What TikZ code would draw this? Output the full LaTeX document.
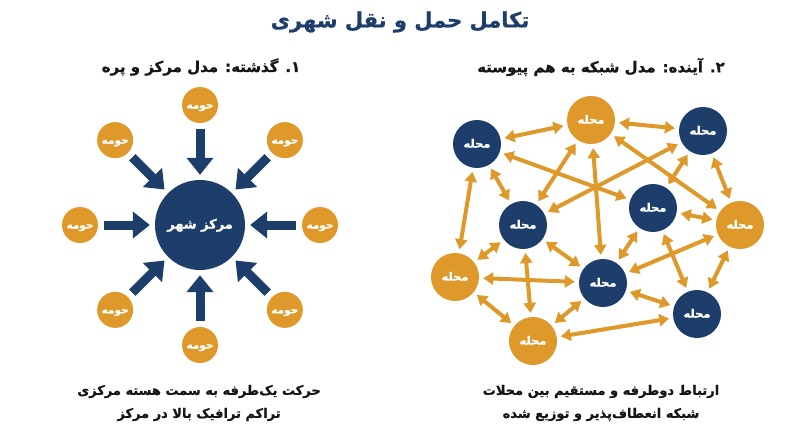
\documentclass[tikz,border=0pt]{standalone}
\usepackage{fontspec}
\usepackage{xcolor}
\definecolor{colorNavy}{RGB}{29,62,107}
\definecolor{colorAmber}{RGB}{222,153,42}
\definecolor{colorInk}{RGB}{22,22,22}
\newfontfamily\farsifont[Script=Arabic, BoldFeatures={FakeBold=0.8}]{DejaVu Sans}
\TeXXeTstate=1
\newcommand{\fatext}[1]{{\farsifont\bfseries\beginR #1\endR}}
\usetikzlibrary{arrows.meta, positioning}
\tikzset{
  hub/.style={circle, fill=colorNavy, minimum size=90pt, inner sep=0pt, text=white, text height=0.72em, text depth=0pt, font=\fontsize{13}{15}\selectfont},
  suburb/.style={circle, fill=colorAmber, minimum size=36pt, inner sep=0pt, text=white, text height=0.72em, text depth=0pt, font=\fontsize{10.5}{12}\selectfont},
  district/.style={circle, minimum size=48pt, inner sep=0pt, text=white, text height=0.72em, text depth=0pt, font=\fontsize{11.5}{13}\selectfont},
  inflow/.style={colorNavy, line width=9pt, -{Triangle[length=17pt, width=26pt]}, shorten >=5pt, shorten <=6pt},
  link/.style={colorAmber, line width=4pt, {Triangle[length=10pt, width=12pt]}-{Triangle[length=10pt, width=12pt]}, shorten >=4pt, shorten <=4pt}
}

\begin{document}
\begin{tikzpicture}[x=1pt, y=-1pt]
\useasboundingbox[fill=white] (0,0) rectangle (800,447);

% titles
\node[colorNavy, font=\fontsize{21}{24}\selectfont] (title) at (400,22) {\fatext{تکامل حمل و نقل شهری}};
\node[colorInk, font=\fontsize{15}{18}\selectfont] (headOld) at (201,67) {\fatext{۱. گذشته: مدل مرکز و پره}};
\node[colorInk, font=\fontsize{15}{18}\selectfont] (headNew) at (601,67) {\fatext{۲. آینده: مدل شبکه به هم پیوسته}};

% hub and spoke
\node[hub] (hub) at (200,225) {\fatext{مرکز شهر}};
\foreach \ang [count=\i] in {90,135,180,225,270,315,0,45} {
  \node[suburb] (s\i) at ({200+120*cos(\ang)},{225+120*sin(\ang)}) {\fatext{حومه}};
  \draw[inflow] (s\i) -- (hub);
}

% network
\node[district, fill=colorNavy]  (n1)  at (477,144) {\fatext{محله}};
\node[district, fill=colorAmber] (n2)  at (591,120) {\fatext{محله}};
\node[district, fill=colorNavy]  (n3)  at (703,131) {\fatext{محله}};
\node[district, fill=colorNavy]  (n4)  at (523,225) {\fatext{محله}};
\node[district, fill=colorNavy]  (n5)  at (653,208) {\fatext{محله}};
\node[district, fill=colorAmber] (n6)  at (740,225) {\fatext{محله}};
\node[district, fill=colorAmber] (n7)  at (455,277) {\fatext{محله}};
\node[district, fill=colorNavy]  (n8)  at (603,283) {\fatext{محله}};
\node[district, fill=colorNavy]  (n9)  at (697,314) {\fatext{محله}};
\node[district, fill=colorAmber] (n10) at (533,341) {\fatext{محله}};
\foreach \a/\b in {n1/n2, n2/n3, n1/n4, n1/n7, n1/n5, n2/n4, n2/n8, n3/n4, n3/n5, n2/n6,
                   n3/n6, n5/n6, n5/n8, n6/n8, n5/n9, n6/n9, n8/n9, n4/n7, n4/n8, n4/n10,
                   n7/n8, n7/n10, n8/n10, n10/n9}
  \draw[link] (\a) -- (\b);

% captions
\node[colorInk, font=\fontsize{13}{23}\selectfont, align=center] (capOld) at (199,403)
  {\fatext{حرکت یک‌طرفه به سمت هسته مرکزی}\\\fatext{تراکم ترافیک بالا در مرکز}};
\node[colorInk, font=\fontsize{13}{23}\selectfont, align=center] (capNew) at (601,403)
  {\fatext{ارتباط دوطرفه و مستقیم بین محلات}\\\fatext{شبکه انعطاف‌پذیر و توزیع شده}};
\end{tikzpicture}
\end{document}
